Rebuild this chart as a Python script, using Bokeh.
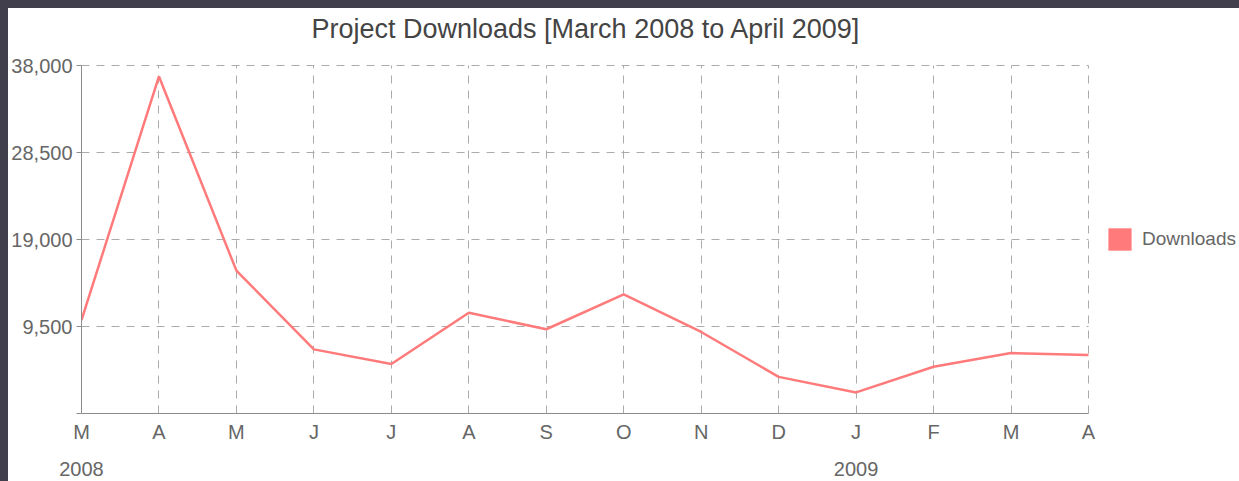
from bokeh.plotting import figure
from bokeh.models import (FixedTicker, LinearAxis, Legend, LegendItem, Range1d, Grid,
                          NumeralTickFormatter, ColumnDataSource)
from bokeh.embed import file_html
from bokeh.resources import INLINE

# ---- data ----
months = ["M", "A", "M", "J", "J", "A", "S", "O", "N", "D", "J", "F", "M", "A"]
downloads = [10200, 36800, 15600, 7000, 5400, 11000, 9200, 13000, 8900, 4000, 2300, 5100, 6600, 6400]
years = ["2008", "2009"]
year_start_index = [0, 10]
y_ticks = [0, 9500, 19000, 28500, 38000]
series_name = "Downloads"
title_text = "Project Downloads [March 2008 to April 2009]"

FONT = "Liberation Sans"
LINE_COLOR = "#ff7a7a"
GRID_COLOR = "#ababab"
AXIS_COLOR = "#8c8c8c"
LABEL_COLOR = "#666666"

# layout (pixels)
W, H = 1231, 473
BORDER_L, BORDER_T, BORDER_B = 73, 56, 67
PLOT_W, PLOT_H = 1007, 348          # data area (0..13 months, 0..38000)
FRAME_W = W - BORDER_L              # frame runs to the right edge (legend lives inside)

x = list(range(len(months)))
x_last = x[-1]
x_end = x_last * FRAME_W / PLOT_W
px = y_ticks[-1] / PLOT_H           # one pixel of headroom above and below
y_start, y_end = y_ticks[0] - px, y_ticks[-1] + px
src = ColumnDataSource(dict(x=x, y=downloads))

p = figure(width=W, height=H, output_backend="svg", toolbar_location=None,
           x_range=Range1d(0, x_end), y_range=Range1d(y_start, y_end),
           min_border_left=BORDER_L, min_border_right=0,
           min_border_top=BORDER_T, min_border_bottom=BORDER_B,
           x_axis_location=None, y_axis_location=None,
           outline_line_color=None)
p.outline_line_alpha = 0
p.background_fill_color = "white"
p.border_fill_color = "white"

# title
p.title.text = title_text
p.title.align = "left"
p.title.offset = 230
p.title.vertical_align = "top"
p.title.text_font = FONT
p.title.text_font_size = "27px"
p.title.text_font_style = "normal"
p.title.text_color = "#444444"
p.title.standoff = 10
p.title.padding = dict(left=0, right=0, top=0, bottom=14)

# y axis
yaxis = LinearAxis(ticker=FixedTicker(ticks=y_ticks), bounds=(y_ticks[0], y_ticks[-1]),
                   formatter=NumeralTickFormatter(format="0,0"))
yaxis.major_label_overrides = {y_ticks[0]: ""}
yaxis.axis_line_color = AXIS_COLOR
yaxis.major_tick_line_color = AXIS_COLOR
yaxis.major_tick_out = 5
yaxis.major_tick_in = 0
yaxis.minor_tick_line_color = None
yaxis.major_label_standoff = 4
yaxis.major_label_text_font = FONT
yaxis.major_label_text_font_size = "20px"
yaxis.major_label_text_color = LABEL_COLOR
p.add_layout(yaxis, "left")

# x axis (months) - its rule is drawn by a bounded baseline grid below
xaxis = LinearAxis(ticker=FixedTicker(ticks=x), bounds=(0, x_last))
xaxis.major_label_overrides = {i: m for i, m in zip(x, months)}
xaxis.axis_line_color = None
xaxis.major_tick_line_color = None
xaxis.major_tick_out = 0
xaxis.major_tick_in = 0
xaxis.minor_tick_line_color = None
xaxis.major_label_standoff = 6
xaxis.major_label_text_font = FONT
xaxis.major_label_text_font_size = "20px"
xaxis.major_label_text_color = LABEL_COLOR
p.add_layout(xaxis, "below")

# x axis (years)
yr_axis = LinearAxis(ticker=FixedTicker(ticks=year_start_index))
yr_axis.major_label_overrides = {i: yv for i, yv in zip(year_start_index, years)}
yr_axis.axis_line_color = None
yr_axis.major_tick_line_color = None
yr_axis.major_tick_out = 0
yr_axis.major_tick_in = 0
yr_axis.minor_tick_line_color = None
yr_axis.major_label_standoff = 16
yr_axis.major_label_text_font = FONT
yr_axis.major_label_text_font_size = "20px"
yr_axis.major_label_text_color = LABEL_COLOR
p.add_layout(yr_axis, "below")

# grids
p.xgrid.ticker = FixedTicker(ticks=x[1:])
p.ygrid.ticker = FixedTicker(ticks=y_ticks[1:])
p.xgrid.cross_bounds = (y_ticks[0], y_ticks[-1])
p.ygrid.cross_bounds = (0, x_last)
for g in (p.xgrid[0], p.ygrid[0]):
    g.grid_line_color = GRID_COLOR
    g.grid_line_dash = "8 7"
    g.grid_line_width = 1

# x-axis baseline (solid, from first to last month)
baseline = Grid(dimension=1, ticker=FixedTicker(ticks=[y_ticks[0]]),
                cross_bounds=(0, x_last), grid_line_color=AXIS_COLOR, grid_line_width=1)
p.add_layout(baseline)

# line
line_r = p.line("x", "y", source=src, line_color=LINE_COLOR, line_width=2.5)

# legend proxy (filled swatch): a zero-area quad at the first data point
proxy = p.quad(top=[downloads[0]], bottom=[downloads[0]], left=[x[0]], right=[x[0]],
               fill_color=LINE_COLOR, line_color=None)
legend = Legend(items=[LegendItem(label=series_name, renderers=[proxy])],
                location=(1024, 161), orientation="vertical",
                padding=0, margin=0, spacing=0,
                glyph_width=29, glyph_height=28, label_height=28,
                label_standoff=8,
                label_text_font=FONT, label_text_font_size="19px",
                label_text_color=LABEL_COLOR,
                border_line_color=None, background_fill_alpha=0)
p.add_layout(legend, "center")

html = file_html(p, INLINE)
css = ("<style>html{background:#423f4d;} "
       "body{background:#ffffff;margin:8px 0 0 8px;padding:0;height:auto;}</style>")
html = html.replace("</head>", css + "</head>", 1)
open("out.html", "w").write(html)
